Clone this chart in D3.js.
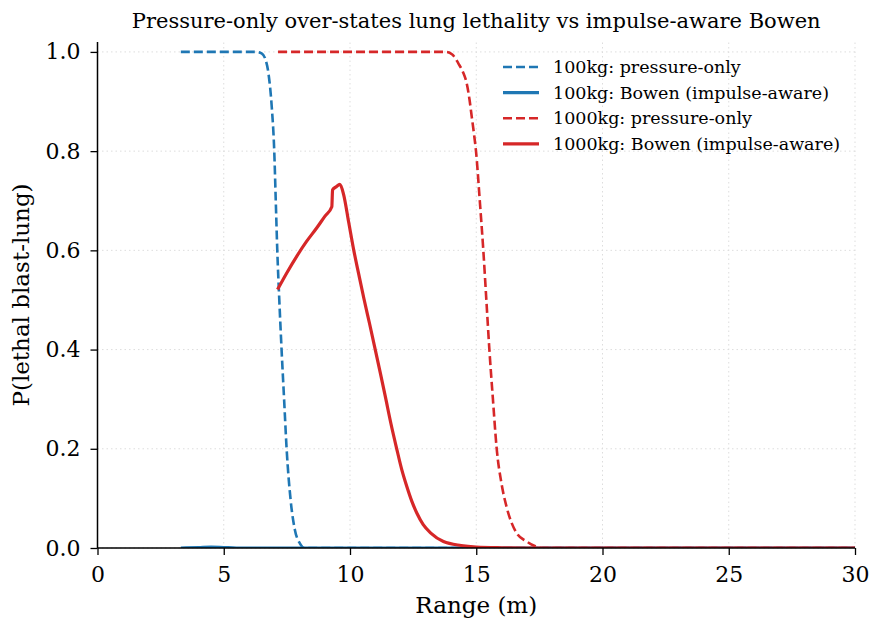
<!DOCTYPE html>
<meta charset="utf-8">
<style>
body { margin: 0; background: #fff; }
text { font-family: "DejaVu Serif", serif; fill: #000; }
.grid line { stroke: #ddd; stroke-width: 1px; stroke-dasharray: 1.5,3; }
.axis path, .axis line { stroke: #000; }
.axis path { stroke-width: 1.5px; }
.axis line { stroke-width: 1.3px; }
.axis text { font-size: 22px; }
</style>
<body>
<script src="https://d3js.org/d3.v7.min.js"></script>
<script>

// range (m) and P(lethal blast-lung)
var blueDashX = [3.3, 6.3, 6.5, 6.63, 6.77, 6.9, 7.0, 7.06, 7.12, 7.2, 7.29, 7.39, 7.49, 7.65, 7.82, 8.02, 8.2, 30];
var blueDashY = [1.0, 1.0, 0.997, 0.988, 0.957, 0.89, 0.80, 0.70, 0.60, 0.50, 0.40, 0.30, 0.20, 0.096, 0.036, 0.009, 0.0, 0.0];

var blueSolidX = [3.3, 4.0, 4.5, 5.0, 5.5, 30];
var blueSolidY = [0.0, 0.001, 0.002, 0.001, 0.0, 0.0];

var redDashX = [7.15, 13.8, 14.05, 14.29, 14.47, 14.62, 14.73, 14.82, 14.91, 14.99, 15.14, 15.28, 15.40, 15.52, 15.66, 15.81, 16.0, 16.2, 16.6, 17.0, 17.27, 17.6, 30];
var redDashY = [1.0, 1.0, 0.995, 0.977, 0.96, 0.937, 0.905, 0.87, 0.835, 0.80, 0.70, 0.60, 0.50, 0.40, 0.30, 0.20, 0.13, 0.083, 0.03, 0.013, 0.005, 0.0, 0.0];

var redSolidX = [7.13, 7.49, 7.89, 8.28, 8.68, 9.01, 9.28, 9.31, 9.45, 9.6, 9.75, 9.95, 10.15, 10.35, 10.55, 10.78, 11.0, 11.2, 11.4, 11.62, 11.85, 12.05, 12.25, 12.45, 12.65, 12.9, 13.2, 13.7, 14.4, 15.0, 16.0, 17.0, 30];
var redSolidY = [0.521, 0.554, 0.588, 0.618, 0.645, 0.669, 0.688, 0.722, 0.728, 0.733, 0.712, 0.656, 0.60, 0.551, 0.503, 0.451, 0.40, 0.353, 0.305, 0.251, 0.20, 0.158, 0.124, 0.094, 0.07, 0.047, 0.03, 0.013, 0.005, 0.002, 0.0005, 0.0, 0.0];

var xTicks = [0, 5, 10, 15, 20, 25, 30];
var yTicks = [0.0, 0.2, 0.4, 0.6, 0.8, 1.0];

var seriesNames = ["100kg: pressure-only", "100kg: Bowen (impulse-aware)",
                   "1000kg: pressure-only", "1000kg: Bowen (impulse-aware)"];

var width = 870, height = 619;
var margin = {top: 42, right: 15, bottom: 71, left: 97.5};
var blue = "#1f77b4", red = "#d62728";

var svg = d3.select("body").append("svg")
    .attr("width", width)
    .attr("height", height);

var x = d3.scaleLinear().domain([0, 30]).range([margin.left, width - margin.right]);
var y = d3.scaleLinear().domain([0, 1.02]).range([height - margin.bottom, margin.top]);

// dotted grid
var grid = svg.append("g").attr("class", "grid");
grid.selectAll(".gx").data(xTicks).enter().append("line")
    .attr("x1", d => x(d)).attr("x2", d => x(d))
    .attr("y1", y(0)).attr("y2", y(1.02));
grid.selectAll(".gy").data(yTicks).enter().append("line")
    .attr("y1", d => y(d)).attr("y2", d => y(d))
    .attr("x1", x(0)).attr("x2", x(30));

svg.append("clipPath").attr("id", "clip")
  .append("rect")
    .attr("x", x(0)).attr("y", y(1.02))
    .attr("width", x(30) - x(0)).attr("height", y(0) - y(1.02));

var line = d3.line()
    .x(d => x(d[0]))
    .y(d => y(d[1]))
    .curve(d3.curveMonotoneX);

function pairs(xs, ys) { return xs.map((v, i) => [v, ys[i]]); }

var series = [
  {data: pairs(blueDashX, blueDashY), color: blue, dash: "9,4", w: 2.6},
  {data: pairs(blueSolidX, blueSolidY), color: blue, dash: null, w: 3.2},
  {data: pairs(redDashX, redDashY), color: red, dash: "9,4", w: 2.6},
  {data: pairs(redSolidX, redSolidY), color: red, dash: null, w: 3.2}
];

var plot = svg.append("g").attr("clip-path", "url(#clip)");
series.forEach(function(s) {
  plot.append("path")
      .datum(s.data)
      .attr("fill", "none")
      .attr("stroke", s.color)
      .attr("stroke-width", s.w)
      .attr("stroke-dasharray", s.dash)
      .attr("d", line);
});

// axes (left and bottom spines only)
var xAxis = svg.append("g")
    .attr("class", "axis")
    .attr("transform", "translate(0," + y(0) + ")")
    .call(d3.axisBottom(x).tickValues(xTicks).tickSize(7).tickSizeOuter(0).tickPadding(11));
xAxis.select(".domain").attr("d", "M" + x(0) + ",0H" + x(30));

var yAxis = svg.append("g")
    .attr("class", "axis")
    .attr("transform", "translate(" + x(0) + ",0)")
    .call(d3.axisLeft(y).tickValues(yTicks).tickSize(7).tickSizeOuter(0).tickPadding(10)
      .tickFormat(d3.format(".1f")));
yAxis.select(".domain").attr("d", "M0," + y(0) + "V" + y(1.02));

// labels
svg.append("text")
    .attr("x", (x(0) + x(30)) / 2)
    .attr("y", 28)
    .attr("text-anchor", "middle")
    .style("font-size", "21px")
    .text("Pressure-only over-states lung lethality vs impulse-aware Bowen");

svg.append("text")
    .attr("x", (x(0) + x(30)) / 2)
    .attr("y", 613)
    .attr("text-anchor", "middle")
    .style("font-size", "23px")
    .text("Range (m)");

svg.append("text")
    .attr("transform", "translate(29," + (y(0) + y(1.02)) / 2 + ") rotate(-90)")
    .attr("text-anchor", "middle")
    .style("font-size", "23px")
    .text("P(lethal blast-lung)");

// legend
var legend = svg.append("g").selectAll("g")
    .data(series)
    .enter().append("g")
    .attr("transform", (d, i) => "translate(503," + (67 + i * 25.6) + ")");

legend.append("line")
    .attr("x1", 0).attr("x2", 36)
    .attr("stroke", d => d.color)
    .attr("stroke-width", d => d.w)
    .attr("stroke-dasharray", d => d.dash);

legend.append("text")
    .attr("x", 50)
    .attr("dy", "0.35em")
    .style("font-size", "17.5px")
    .text((d, i) => seriesNames[i]);

</script>
</body>
